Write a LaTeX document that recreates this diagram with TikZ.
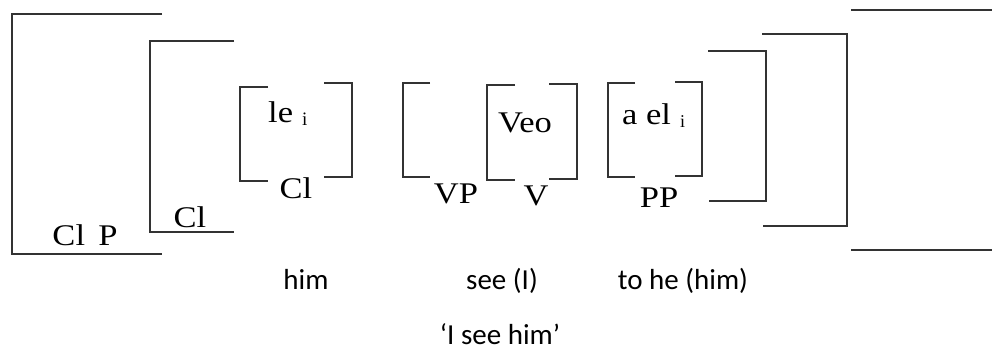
\documentclass[tikz,border=0pt]{standalone}
\usepackage{fontspec}
\setmainfont{Liberation Serif}
\newfontfamily\glossfont{Carlito}
% serif labels are set slightly wide
\newcommand{\widelab}[1]{\scalebox{1.15}[1]{#1}}
\begin{document}
\begin{tikzpicture}[x=1pt,y=-1pt,
  brk/.style={draw=black!80,line width=1.8pt,line join=miter},
  lab/.style={inner sep=0pt,anchor=base,font=\fontsize{30}{30}\selectfont},
  gloss/.style={inner sep=0pt,anchor=base,font=\glossfont\fontsize{29}{29}\selectfont}]
\useasboundingbox (0,0) rectangle (992,354);
% ClP
\draw[brk] (162,14) -- (12,14) -- (12,254) -- (162,254);
\node[lab] (clp) at (85,245) {\widelab{Cl\hspace{4pt} P}};
% Cl'
\draw[brk] (234,41) -- (150,41) -- (150,232) -- (234,232);
\node[lab] (clbar) at (190,227) {\widelab{Cl}};
% clitic
\draw[brk] (268,87) -- (240,87) -- (240,181) -- (268,181);
\draw[brk] (324,83) -- (352,83) -- (352,177) -- (324,177);
\node[lab,anchor=base west] (le) at (268,122) {\widelab{le}\hspace{9pt}\raisebox{-3pt}{\fontsize{19}{19}\selectfont i}};
\node[lab] (cl) at (296,198) {\widelab{Cl}};
% VP
\draw[brk] (430,83) -- (403,83) -- (403,177) -- (430,177);
\node[lab] (vp) at (456,203) {\widelab{VP}};
% V
\draw[brk] (515,85) -- (487,85) -- (487,180) -- (515,180);
\draw[brk] (549,84) -- (577,84) -- (577,179) -- (549,179);
\node[lab] (veo) at (525,132) {\widelab{Veo}};
\node[lab] (v) at (536,205) {\widelab{V}};
% PP
\draw[brk] (635,83) -- (608,83) -- (608,177) -- (635,177);
\draw[brk] (675,82) -- (702,82) -- (702,176) -- (675,176);
\node[lab,anchor=base west] (ael) at (622,124) {\widelab{a el}\hspace{9pt}\raisebox{-3pt}{\fontsize{18}{18}\selectfont i}};
\node[lab] (pp) at (659,207) {\widelab{PP}};
% closing brackets
\draw[brk] (708,51) -- (766,51) -- (766,201) -- (709,201);
\draw[brk] (762,34) -- (847,34) -- (847,226) -- (763,226);
\draw[brk] (851,10) -- (992,10);
\draw[brk] (851,250) -- (992,250);
% glosses
\node[gloss] (g1) at (306,289) {him};
\node[gloss] (g2) at (502,289) {see (I)};
\node[gloss] (g3) at (683,289) {to he (him)};
\node[gloss] (tr) at (500,344) {‘I see him’};
\end{tikzpicture}
\end{document}
